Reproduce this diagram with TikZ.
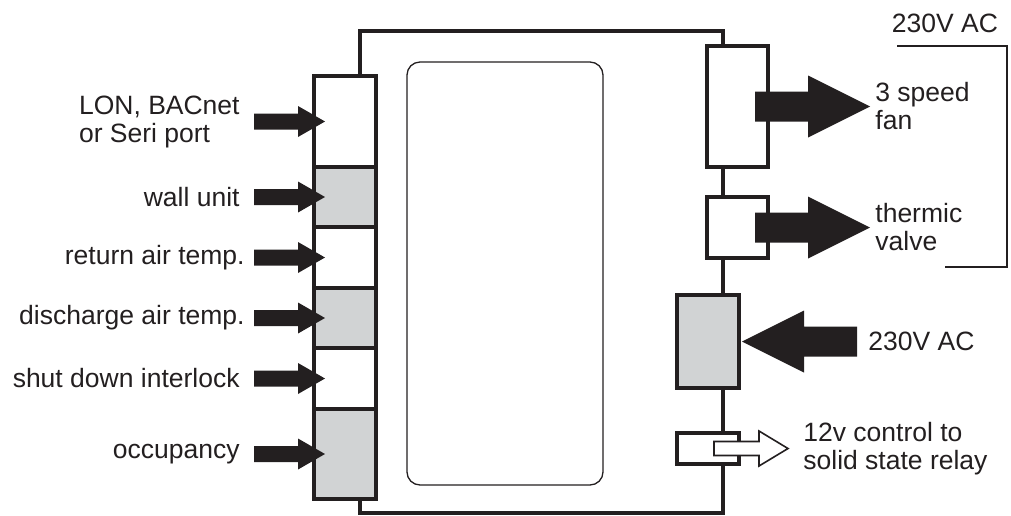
\documentclass[tikz,border=0pt]{standalone}
\usepackage{fontspec}
\setmainfont{Liberation Sans}
\usetikzlibrary{positioning}
\definecolor{ink}{HTML}{231F20}
\definecolor{panel}{HTML}{D1D3D4}

\tikzset{
  port/.style={draw=ink, line width=1.6pt, fill=white, minimum width=31pt, inner sep=0pt, outer sep=0pt},
  shaded/.style={port, fill=panel},
  wire/.style={draw=ink, line width=1.6pt},
  lab/.style={text=ink, inner sep=0pt, font=\fontsize{13.25}{14}\selectfont},
  feed/.pic={\fill[ink] (0,0) -- (-27,15.5) -- (-27,8) -- (-71,8) -- (-71,-8) -- (-27,-8) -- (-27,-15.5) -- cycle;},
  drive/.pic={\fill[ink] (0,0) -- (-62,31) -- (-62,15) -- (-115,15) -- (-115,-15) -- (-62,-15) -- (-62,-31) -- cycle;},
  hollow/.pic={\filldraw[fill=white, draw=ink, line width=0.8pt] (0,0) -- (-29,17.5) -- (-29,7) -- (-74,7) -- (-74,-7) -- (-29,-7) -- (-29,-17.5) -- cycle;}
}

\begin{document}
\begin{tikzpicture}[x=0.5pt, y=-0.5pt]
  \useasboundingbox (0,0) rectangle (1011,515);

  % frame corners
  \coordinate (tl) at (360,31);
  \coordinate (tr) at (723,31);
  \coordinate (bl) at (360,513);
  \coordinate (br) at (723,513);

  % display window
  \draw[ink, line width=0.65pt, rounded corners=6.5pt] (407,62) rectangle (603,485);

  % input terminals
  \node[port, minimum height=45.5pt, anchor=north west] (lon) at (314,76) {};
  \node[shaded, minimum height=30pt, below=0pt of lon] (wall) {};
  \node[port, minimum height=30.5pt, below=0pt of wall] (ret) {};
  \node[shaded, minimum height=30pt, below=0pt of ret] (dis) {};
  \node[port, minimum height=30.5pt, below=0pt of dis] (shut) {};
  \node[shaded, minimum height=45pt, below=0pt of shut] (occ) {};

  % frame wiring
  \draw[wire] (lon.north -| tl) -- (tl) -- (tr) -- (723,46);
  \draw[wire] (723,167) -- (723,197);
  \draw[wire] (723,258) -- (br) -- (bl) -- (occ.south -| bl);

  % output terminals
  \node[port, minimum width=30.5pt, minimum height=60.5pt, anchor=north west] (fan) at (707,46) {};
  \node[port, minimum width=30.5pt, minimum height=30.5pt, anchor=north west] (valve) at (707,197) {};
  \node[shaded, minimum height=46.5pt, anchor=north west] (pwr) at (677,295) {};
  \node[port, minimum height=15.5pt, anchor=north west] (relay) at (677,433) {};

  % input arrows
  \foreach \t in {lon, wall, ret, dis, shut, occ}
    \pic at ([xshift=5.5pt]\t.west) {feed};

  % output arrows
  \pic at ([xshift=51pt]fan.east) {drive};
  \pic at ([xshift=51pt]valve.east) {drive};
  \pic[rotate=180] at ([xshift=1.5pt]pwr.east) {drive};
  \pic at ([xshift=24.5pt]relay.east) {hollow};

  % labels
  \node[lab, align=left, left=37pt of lon] (tlon) {LON, BACnet\\or Seri port};
  \node[lab, left=37pt of wall] (twall) {wall unit};
  \node[lab, left=34.5pt of ret] (tret) {return air temp.};
  \node[lab, left=34.5pt of dis] (tdis) {discharge air temp.};
  \node[lab, left=37pt of shut] (tshut) {shut down interlock};
  \node[lab, left=37pt of occ] (tocc) {occupancy};

  \node[lab, align=left, right=53.5pt of fan] (tfan) {3 speed\\fan};
  \node[lab, align=left, right=53.5pt of valve] (tvalve) {thermic\\valve};
  \node[lab, right=64.5pt of pwr] (tpwr) {230V AC};
  \node[lab, align=left, right=32pt of relay] (trelay) {12v control to\\solid state relay};

  % supply bracket
  \node[lab] (mains) at (945,23) {230V AC};
  \draw[ink, line width=0.75pt] (897,46) -- (1007,46) -- (1007,267) -- (945,267);
\end{tikzpicture}
\end{document}
